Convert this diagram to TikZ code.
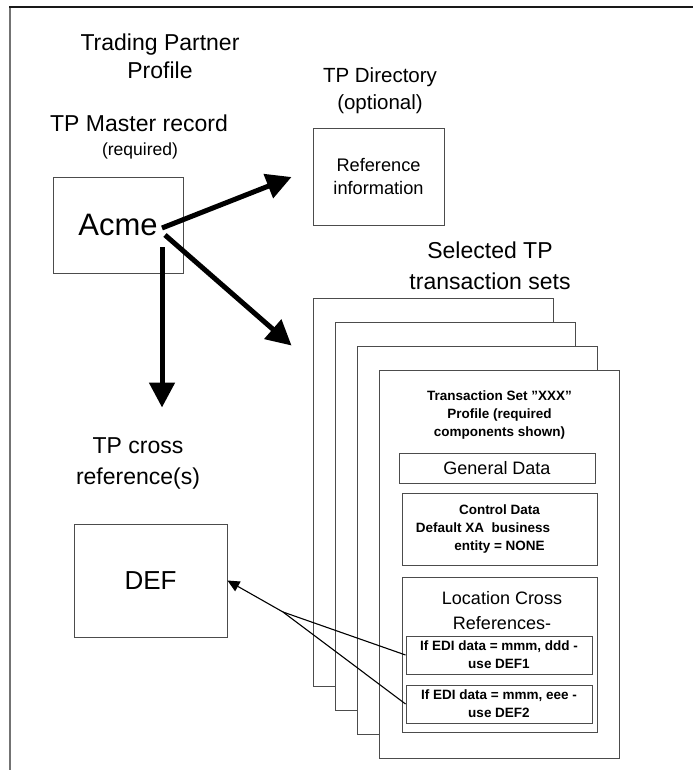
\documentclass[tikz,border=0pt]{standalone}
\usepackage{fontspec}
\setmainfont{Liberation Sans}
\usetikzlibrary{arrows.meta,calc}
\tikzset{
  fr/.style={draw=black!70, line width=0.9pt, inner sep=0pt, fill=white},
  lbl/.style={inner sep=0pt, align=center, text=black},
  thick arrow/.style={line width=5pt, -{Triangle[length=25pt,width=25pt]}},
  thin arrow/.style={line width=1.1pt, -{Triangle[length=12pt,width=11pt]}},
  thin line/.style={line width=1.1pt},
}
\newcommand{\fs}[2]{\fontsize{#1}{#2}\selectfont}
\begin{document}
\begin{tikzpicture}[x=1pt,y=-1pt]
\useasboundingbox (0,0) rectangle (693,770);
\fill[white] (0,0) rectangle (693,770);
% frame
\draw[line width=2pt, black!55] (10,770) -- (10,7);
\draw[line width=2pt, black!90] (9,7) -- (693,7);

% titles
\node[lbl, font=\fs{23}{28}] (title) at (160,56) {Trading Partner\\Profile};
\node[lbl, font=\fs{23}{28}] (mlabel) at (139,123) {TP Master record};
\node[lbl, font=\fs{17.5}{21}] (mreq) at (140,151) {(required)};
\node[fr, minimum width=130pt, minimum height=96pt, font=\fs{31}{36}] (acme) at (118,225) {Acme};

\node[lbl, font=\fs{20.5}{27}] (dlabel) at (380,90.5) {TP Directory\\(optional)};
\node[fr, minimum width=131pt, minimum height=97pt, align=center, font=\fs{18.2}{23}] (ref) at (378.5,176.5) {Reference\\information};

\node[lbl, font=\fs{23}{31}] (slabel) at (490,265.5) {Selected TP\\transaction sets};

% stacked pages
\node[fr, minimum width=240pt, minimum height=388pt] (p1) at (433,492) {};
\node[fr, minimum width=240pt, minimum height=388pt] (p2) at (455,516) {};
\node[fr, minimum width=240pt, minimum height=388pt] (p3) at (477,540) {};
\node[fr, minimum width=240pt, minimum height=388pt] (p4) at (499,564.5) {};

\node[lbl, font=\bfseries\fs{13.5}{18}] (tshead) at (499.5,415) {Transaction Set \symbol{34}XXX\symbol{34}\\Profile (required\\components shown)};
\node[fr, minimum width=196pt, minimum height=30pt, font=\fs{18}{22}] (gen) at (497,468) {General Data};
\node[fr, minimum width=195pt, minimum height=72pt] (ctl) at (499.5,529) {};
\node[lbl, font=\bfseries\fs{13.5}{18}] (ctltext) at (ctl.center) {Control Data\\Default XA\ \ business\rule{33pt}{0pt}\\entity = NONE};
\node[fr, minimum width=195pt, minimum height=155pt] (loc) at (499.5,654.5) {};
\node[lbl, font=\fs{18}{25}] (loctext) at (502,610.5) {Location Cross\\References-};
\node[fr, minimum width=186pt, minimum height=38pt, align=center, font=\bfseries\fs{13.5}{18}] (edi1) at (499,655) {If EDI data = mmm, ddd -\\use DEF1};
\node[fr, minimum width=186pt, minimum height=38pt, align=center, font=\bfseries\fs{13.5}{18}] (edi2) at (499,704) {If EDI data = mmm, eee -\\use DEF2};

% cross reference
\node[lbl, font=\fs{23}{31}] (xlabel) at (138,463.5) {TP cross\\reference(s)};
\node[fr, minimum width=153pt, minimum height=113pt, font=\fs{26}{30}] (def) at (150.5,580.5) {DEF};

% thick arrows
\coordinate (s1) at ($(acme.center)+(44,3)$);
\coordinate (s2) at ($(acme.center)+(47,10)$);
\coordinate (s3) at ($(acme.center)+(44,22)$);
\coordinate (t1) at ($(ref.west)+(-21,0.5)$);
\coordinate (t2) at ($(p1.north west)+(-21,48)$);
\coordinate (t3) at ($(xlabel.north)+(24,-30)$);
\draw[thick arrow] (s1) -- (t1);
\draw[thick arrow] (s2) -- (t2);
\draw[thick arrow] (s3) -- (s3 |- t3);

% thin arrows
\coordinate (jn) at (283,612);
\draw[thin line] (edi1.west) -- (jn);
\draw[thin line] (edi2.west) -- (jn);
\draw[thin arrow] (jn) -- (def.east);
\end{tikzpicture}
\end{document}
